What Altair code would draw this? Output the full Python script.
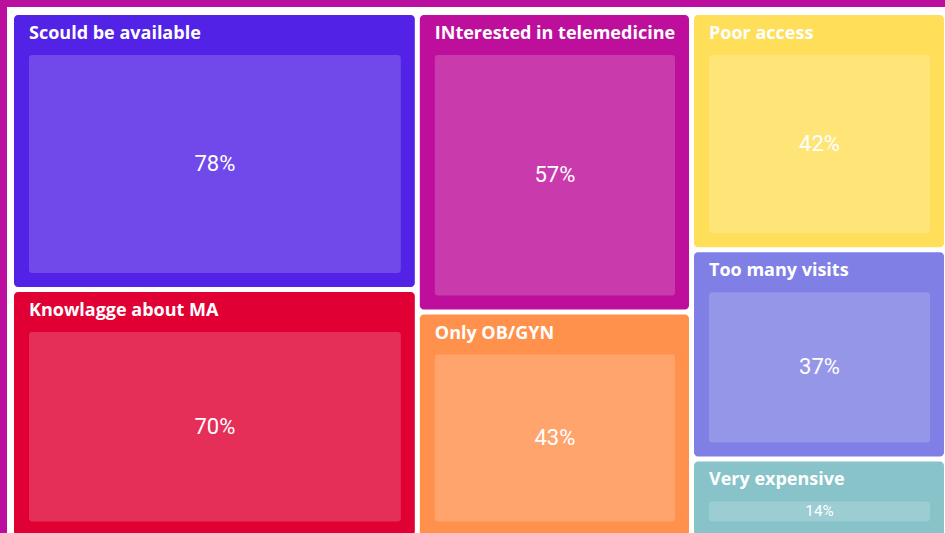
import altair as alt
import pandas as pd

# ---- data ----
labels = ["Scould be available", "Knowlagge about MA", "INterested in telemedicine",
          "Only OB/GYN", "Poor access", "Too many visits", "Very expensive"]
values = [78, 70, 57, 43, 42, 37, 14]
fill_colors = ["#5222E6", "#E00034", "#BD0F9C", "#FF914D", "#FFDE59", "#7F7FE5", "#87C3C9"]
frame_color = "#BA0F9E"

W, H = 945, 533


def squarify(vals, x0, y0, x1, y1, ratio=1.0):
    """d3-style squarified treemap layout."""
    rects = [None] * len(vals)
    value = float(sum(vals))
    n = len(vals)
    i0 = i1 = 0
    while i0 < n:
        dx, dy = x1 - x0, y1 - y0
        sumv = vals[i1]
        i1 += 1
        minv = maxv = sumv
        alpha = max(dy / dx, dx / dy) / (value * ratio)
        beta = sumv * sumv * alpha
        minr = max(maxv / beta, beta / minv)
        while i1 < n:
            nv = vals[i1]
            s = sumv + nv
            mn, mx = min(minv, nv), max(maxv, nv)
            beta = s * s * alpha
            nr = max(mx / beta, beta / mn)
            if nr > minr:
                break
            sumv, minv, maxv, minr = s, mn, mx, nr
            i1 += 1
        row = list(range(i0, i1))
        if dx < dy:
            ny = y0 + dy * sumv / value
            cx = x0
            for k in row:
                w = dx * vals[k] / sumv
                rects[k] = (cx, y0, cx + w, ny)
                cx += w
            y0 = ny
        else:
            nx = x0 + dx * sumv / value
            cy = y0
            for k in row:
                h = dy * vals[k] / sumv
                rects[k] = (x0, cy, nx, cy + h)
                cy += h
            x0 = nx
        value -= sumv
        i0 = i1
    return rects


cells = squarify(values, 11.5, 12.5, 946.5, 538.0)
pad = 2.5
rows = []
for lab, v, col, (a, b, c, d) in zip(labels, values, fill_colors, cells):
    x, y, x2, y2 = a + pad, b + pad, c - pad, d - pad
    ix, iy, ix2, iy2 = x + 15, y + 40, x2 - 14, y2 - 14
    ih = iy2 - iy
    rows.append(dict(label=lab, pct=f"{v}%", color=col,
                     x=x, x2=x2, y=y, y2=y2,
                     ix=ix, ix2=ix2, iy=iy, iy2=iy2,
                     tx=x + 15, ty=y + 10,
                     cx=(ix + ix2) / 2, cy=(iy + iy2) / 2,
                     fs=min(22.0, ih * 0.76)))
df = pd.DataFrame(rows)
frame = pd.DataFrame([dict(x=7, x2=W + 20, y=7, y2=H + 20)])

xs = alt.Scale(domain=[0, W], range=[0, W], nice=False, zero=False)
ys = alt.Scale(domain=[0, H], range=[0, H], nice=False, zero=False)

base = alt.Chart(df)

bg = alt.Chart(frame).mark_rect(color="white", clip=True).encode(
    x=alt.X("x:Q", scale=xs, axis=None), x2="x2:Q",
    y=alt.Y("y:Q", scale=ys, axis=None), y2="y2:Q")

outer = base.mark_rect(cornerRadius=4, clip=True).encode(
    x=alt.X("x:Q", scale=xs, axis=None), x2="x2:Q",
    y=alt.Y("y:Q", scale=ys, axis=None), y2="y2:Q",
    color=alt.Color("color:N", scale=None))

inner = base.mark_rect(cornerRadius=3, color="white", opacity=0.18, clip=True).encode(
    x=alt.X("ix:Q", scale=xs, axis=None), x2="ix2:Q",
    y=alt.Y("iy:Q", scale=ys, axis=None), y2="iy2:Q")

titles = base.mark_text(align="left", baseline="top", font="Open Sans",
                        fontWeight="bold", fontSize=18, color="white").encode(
    x=alt.X("tx:Q", scale=xs, axis=None),
    y=alt.Y("ty:Q", scale=ys, axis=None),
    text="label:N")

pcts = base.mark_text(align="center", baseline="middle", font="Roboto",
                      color="white").encode(
    x=alt.X("cx:Q", scale=xs, axis=None),
    y=alt.Y("cy:Q", scale=ys, axis=None),
    size=alt.Size("fs:Q", scale=None),
    text="pct:N")

chart = (bg + outer + inner + titles + pcts).properties(
    width=W, height=H, padding=0, autosize=alt.AutoSizeParams(type="none"),
    background=frame_color
).configure_view(stroke=None)

chart.save("out.html", embed_options={"renderer": "svg", "actions": False})
